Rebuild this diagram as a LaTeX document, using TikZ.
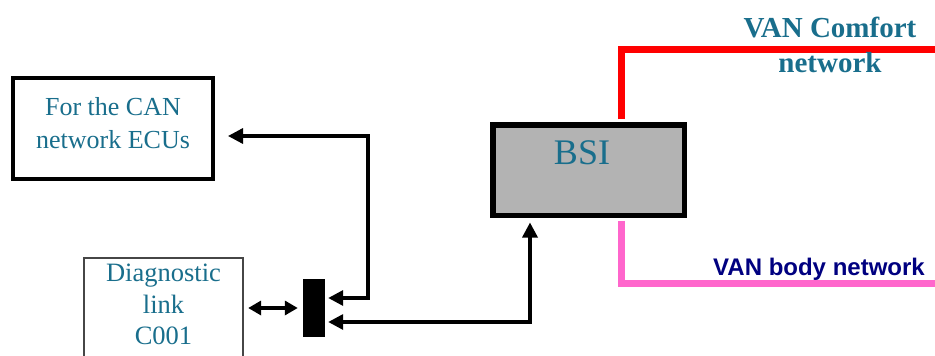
\documentclass[tikz,border=0pt]{standalone}
\usepackage{fontspec}
\setmainfont{Liberation Serif}
\newfontfamily\arialfont{Liberation Sans}
\usetikzlibrary{arrows.meta}
\definecolor{tealtext}{RGB}{25,110,140}
\definecolor{navytext}{RGB}{0,0,128}
\definecolor{vanpink}{RGB}{255,102,204}
\definecolor{bsigray}{RGB}{179,179,179}
\definecolor{diagborder}{RGB}{70,70,70}
\begin{document}
\begin{tikzpicture}[x=1pt,y=-1pt,
  box/.style={draw, rectangle, inner sep=0pt},
  txt/.style={text=tealtext, align=center, inner sep=0pt},
  link/.style={line width=3.3pt, {Triangle[length=15pt,width=15pt]}-{Triangle[length=15pt,width=15pt]}},
  bus/.style={line width=7pt}
]
\useasboundingbox (0,0) rectangle (935,356);

% boxes
\node[box, line width=4pt, minimum width=200pt, minimum height=101pt] (can) at (113,128.5) {};
\node[txt, font=\fontsize{26}{33}\selectfont] (cantext) at (113,123) {For the CAN\\network ECUs};

\node[box, draw=diagborder, line width=1.8pt, minimum width=159.5pt, minimum height=130pt] (diag) at (163.5,322.75) {};
\node[txt, anchor=north, font=\fontsize{26.5}{31.5}\selectfont] (diagtext) at (163.5,264) {Diagnostic\\link\\C001};

\node[rectangle, fill=black, inner sep=0pt, minimum width=22pt, minimum height=58pt] (conn) at (314,308) {};

\node[box, fill=bsigray, line width=5.5pt, minimum width=191.5pt, minimum height=90.5pt] (bsi) at (588.5,170) {};
\node[txt, font=\fontsize{36}{40}\selectfont] (bsitext) at (582,152.5) {BSI};

% buses
\draw[bus, red, shorten <=2.75pt] (bsi.north -| 621.5,0) |- (945,49);
\draw[bus, vanpink, shorten <=2.75pt] (bsi.south -| 621.5,0) |- (945,283.5);

\node[txt, font=\fontsize{29}{35}\selectfont\bfseries] (comfort) at (830,45) {VAN Comfort\\network};
\node[anchor=base, inner sep=0pt, text=navytext, font=\arialfont\fontsize{24}{28}\selectfont\bfseries] (body) at (819,275) {VAN body network};

% connectors
\draw[link, shorten <=13pt, shorten >=3pt] (can.east |- 0,136) -| (368,298) -- (conn.east |- 0,298);
\draw[link, shorten <=3pt, shorten >=4.5pt] (conn.east |- 0,322) -| (bsi.south -| 530,0);
\draw[line width=3.3pt, {Triangle[length=13pt,width=14pt]}-{Triangle[length=13pt,width=14pt]}, shorten <=4pt, shorten >=5pt] (diag.east |- conn.west) -- (conn.west);
\end{tikzpicture}
\end{document}
